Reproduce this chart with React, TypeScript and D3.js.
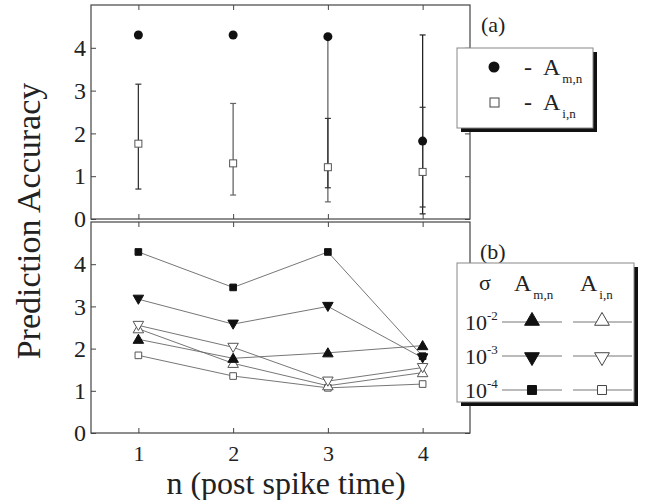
import React, { useRef, useEffect } from "react";
import * as d3 from "d3";

// x positions (n)
const nValues = [1, 2, 3, 4];
const yTicks = [0, 1, 2, 3, 4];

// panel (a): mean accuracy with error bars
const amMean = [4.3, 4.3, 4.26, 1.82];
const amLow = [null, null, 0.4, 0.12];
const amHigh = [null, null, 4.26, 4.3];
const aiMean = [1.76, 1.3, 1.21, 1.1];
const aiLow = [0.7, 0.56, 0.73, 0.28];
const aiHigh = [3.15, 2.7, 2.35, 2.61];

// panel (b): accuracy per noise level sigma
const sigmaLabels = ["-2", "-3", "-4"];
const am2 = [2.22, 1.77, 1.9, 2.07];
const am3 = [3.17, 2.58, 3.0, 1.78];
const am4 = [4.29, 3.45, 4.29, 1.82];
const ai2 = [2.47, 1.65, 1.12, 1.43];
const ai3 = [2.55, 2.03, 1.23, 1.55];
const ai4 = [1.84, 1.35, 1.07, 1.16];

const FONT = "Liberation Serif";
const INK = "#222";

const App = () => {
  const svgRef = useRef<SVGSVGElement>(null);

  useEffect(() => {
    const svg = d3.select(svgRef.current);
    svg.selectAll("*").remove();

    const left = 91, right = 470;
    const x = d3.scaleLinear().domain([0.5, 4.5]).range([left, right]);
    const yA = d3.scaleLinear().domain([0, 5]).range([219, 5]);
    const yB = d3.scaleLinear().domain([0, 5]).range([433, 222]);

    const drawFrame = (y: d3.ScaleLinear<number, number>, labelX: boolean) => {
      const g = svg.append("g");
      const [y0, y1] = y.range();
      g.append("rect")
        .attr("x", left).attr("y", y1)
        .attr("width", right - left).attr("height", y0 - y1)
        .attr("fill", "none").attr("stroke", "#444").attr("stroke-width", 1.2);

      const style = (size: number) => (sel: any) => {
        sel.attr("font-family", null).attr("font-size", null);
        sel.select(".domain").remove();
        sel.selectAll("line").attr("stroke", "#444");
        sel.selectAll("text").style("font-family", FONT).style("font-size", `${size}px`).attr("fill", INK);
      };

      g.append("g").attr("transform", `translate(${left},0)`)
        .call(d3.axisLeft(y).tickValues(yTicks).tickSize(-5).tickPadding(5).tickFormat(d3.format("d")))
        .call(style(24));
      g.append("g").attr("transform", `translate(${right},0)`)
        .call(d3.axisRight(y).tickValues(yTicks).tickSize(-5).tickFormat(() => ""))
        .call(style(24));
      g.append("g").attr("transform", `translate(0,${y1})`)
        .call(d3.axisTop(x).tickValues(nValues).tickSize(-5).tickFormat(() => ""))
        .call(style(22));
      g.append("g").attr("transform", `translate(0,${y0})`)
        .call(d3.axisBottom(x).tickValues(nValues).tickSize(-5).tickPadding(12)
          .tickFormat(labelX ? d3.format("d") : () => ""))
        .call(style(22));
    };

    drawFrame(yA, false);
    drawFrame(yB, true);

    // ---- panel (a) ----
    const pa = svg.append("g");
    const errBar = (xi: number, lo: number, hi: number, color: string) => {
      pa.append("line").attr("x1", x(xi)).attr("x2", x(xi))
        .attr("y1", yA(lo)).attr("y2", yA(hi)).attr("stroke", color).attr("stroke-width", 1.3);
      [lo, hi].forEach((v) =>
        pa.append("line").attr("x1", x(xi) - 3).attr("x2", x(xi) + 3)
          .attr("y1", yA(v)).attr("y2", yA(v)).attr("stroke", color).attr("stroke-width", 1.2));
    };
    nValues.forEach((n, i) => {
      if (amLow[i] != null) errBar(n, amLow[i] as number, amHigh[i] as number, i === 2 ? "#666" : "#222");
      errBar(n, aiLow[i], aiHigh[i], i === 1 ? "#666" : "#333");
    });
    pa.selectAll(".am").data(amMean).enter().append("circle")
      .attr("cx", (_, i) => x(nValues[i])).attr("cy", (d) => yA(d))
      .attr("r", 4.5).attr("fill", "#111");
    pa.selectAll(".ai").data(aiMean).enter().append("rect")
      .attr("x", (_, i) => x(nValues[i]) - 3.5).attr("y", (d) => yA(d) - 3.5)
      .attr("width", 7).attr("height", 7)
      .attr("fill", "white").attr("stroke", "#555").attr("stroke-width", 1);

    // ---- panel (b) ----
    const pb = svg.append("g");
    const symTri = d3.symbol().type(d3.symbolTriangle).size(48);
    const symSq = d3.symbol().type(d3.symbolSquare).size(44);
    const seriesB = [
      { vals: ai4, shape: "sq", filled: false },
      { vals: ai2, shape: "up", filled: false },
      { vals: ai3, shape: "down", filled: false },
      { vals: am2, shape: "up", filled: true },
      { vals: am3, shape: "down", filled: true },
      { vals: am4, shape: "sq", filled: true },
    ];
    const line = d3.line<number>().x((_, i) => x(nValues[i])).y((d) => yB(d));
    const drawMarker = (g: any, cx: number, cy: number, shape: string, filled: boolean) => {
      const path = shape === "sq" ? symSq() : symTri();
      const rot = shape === "down" ? 180 : 0;
      const dy = shape === "up" ? 1 : shape === "down" ? -1 : 0;
      g.append("path").attr("d", path)
        .attr("transform", `translate(${cx},${cy + dy}) rotate(${rot})`)
        .attr("fill", filled ? "#111" : "white")
        .attr("stroke", filled ? "#111" : "#555").attr("stroke-width", 1);
    };
    seriesB.forEach((s) => {
      pb.append("path").attr("d", line(s.vals))
        .attr("fill", "none").attr("stroke", "#666").attr("stroke-width", 0.9);
    });
    seriesB.forEach((s) => {
      s.vals.forEach((v, i) => drawMarker(pb, x(nValues[i]), yB(v), s.shape, s.filled));
    });

    const txt = (g: any, tx: number, ty: number, size: number) =>
      g.append("text").attr("x", tx).attr("y", ty)
        .style("font-family", FONT).style("font-size", `${size}px`).attr("fill", INK);

    // ---- axis titles ----
    txt(svg, 286, 493.5, 32).attr("text-anchor", "middle").text("n (post spike time)");
    svg.append("text").attr("transform", "translate(40,221) rotate(-90)")
      .attr("text-anchor", "middle")
      .style("font-family", FONT).style("font-size", "34px").attr("fill", INK)
      .text("Prediction Accuracy");

    // ---- panel labels ----
    txt(svg, 481, 32, 22).text("(a)");
    txt(svg, 480, 259, 22).text("(b)");

    const subA = (g: any, tx: number, ty: number, sub: string, size: number, subSize: number, subDy: number) => {
      const t = txt(g, tx, ty, size);
      t.append("tspan").text("A");
      t.append("tspan").style("font-size", `${subSize}px`).attr("dx", 2).attr("dy", subDy).text(sub);
    };

    // ---- legend (a) ----
    const la = svg.append("g");
    la.append("rect").attr("x", 461).attr("y", 52).attr("width", 136).attr("height", 80).attr("fill", "#111");
    la.append("rect").attr("x", 457).attr("y", 48).attr("width", 136).attr("height", 80)
      .attr("fill", "white").attr("stroke", "#888").attr("stroke-width", 1);
    la.append("circle").attr("cx", 494).attr("cy", 67).attr("r", 5.5).attr("fill", "#111");
    la.append("rect").attr("x", 490).attr("y", 98).attr("width", 9).attr("height", 9)
      .attr("fill", "white").attr("stroke", "#444");
    [75, 110].forEach((ty) => txt(la, 524, ty, 24).text("-"));
    subA(la, 543, 75, "m,n", 24, 13, 8);
    subA(la, 543, 110, "i,n", 24, 13, 8);

    // ---- legend (b) ----
    const lb = svg.append("g");
    lb.append("rect").attr("x", 461).attr("y", 267).attr("width", 177).attr("height", 139).attr("fill", "#111");
    lb.append("rect").attr("x", 457).attr("y", 263).attr("width", 177).attr("height", 139)
      .attr("fill", "white").attr("stroke", "#888").attr("stroke-width", 1);
    txt(lb, 479, 290, 22).text("σ");
    subA(lb, 514, 291, "m,n", 24, 13, 8);
    subA(lb, 580, 291, "i,n", 24, 13, 8);
    const rowY = [322, 356, 390];
    const legShapes = ["up", "down", "sq"];
    rowY.forEach((ry, i) => {
      const t = txt(lb, 465, ry + 8, 22);
      t.append("tspan").text("10");
      t.append("tspan").style("font-size", "13px").attr("dy", -10).text(sigmaLabels[i]);
      lb.append("line").attr("x1", 502).attr("x2", 562).attr("y1", ry).attr("y2", ry)
        .attr("stroke", "#666").attr("stroke-width", 0.9);
      lb.append("line").attr("x1", 573).attr("x2", 632).attr("y1", ry).attr("y2", ry)
        .attr("stroke", "#666").attr("stroke-width", 0.9);
      const big = (g: any, cx: number, filled: boolean) => {
        const shape = legShapes[i];
        const path = shape === "sq"
          ? d3.symbol().type(d3.symbolSquare).size(80)()
          : d3.symbol().type(d3.symbolTriangle).size(95)();
        const rot = shape === "down" ? 180 : 0;
        g.append("path").attr("d", path)
          .attr("transform", `translate(${cx},${ry + (shape === "up" ? -1 : shape === "down" ? 1 : 0)}) rotate(${rot})`)
          .attr("fill", filled ? "#111" : "white")
          .attr("stroke", filled ? "#111" : "#444").attr("stroke-width", 1);
      };
      big(lb, 532, true);
      big(lb, 602, false);
    });
  }, []);

  return (
    <div style={{ position: "fixed", left: 0, top: 0 }}>
      <svg ref={svgRef} width={649} height={500} style={{ display: "block", background: "white" }} />
    </div>
  );
};

export default App;
